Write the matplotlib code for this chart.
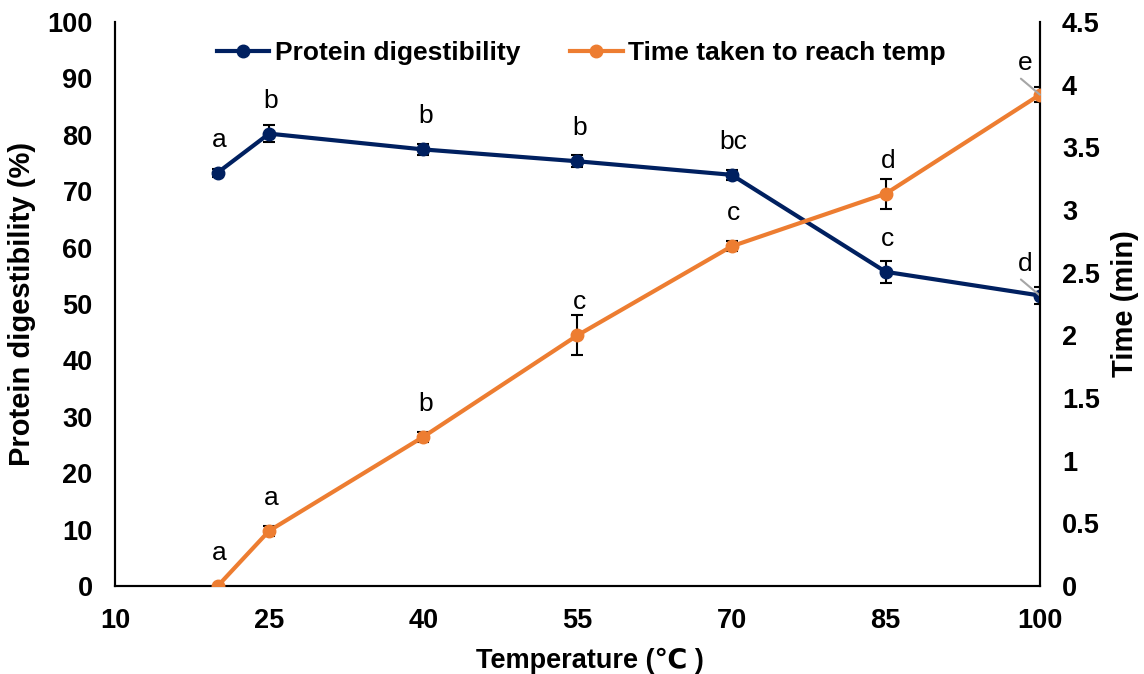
import matplotlib

matplotlib.use("Agg")
import matplotlib.pyplot as plt

# Protein digestibility and heating time versus cooking temperature.
plt.rcParams["font.family"] = ["Liberation Sans", "DejaVu Sans"]

temperature = [20, 25, 40, 55, 70, 85, 100]

digestibility = [73.3, 80.2, 77.4, 75.3, 72.9, 55.7, 51.5]
digestibility_err = [0.7, 1.5, 1.0, 1.1, 0.9, 2.0, 1.5]
digestibility_letters = ["a", "b", "b", "b", "bc", "c", "d"]

heat_time = [0.0, 0.44, 1.19, 2.0, 2.71, 3.13, 3.92]
heat_time_err = [0.0, 0.04, 0.04, 0.16, 0.04, 0.12, 0.06]
heat_time_letters = ["a", "a", "b", "c", "c", "d", "e"]

x_ticks = [10, 25, 40, 55, 70, 85, 100]
left_ticks = list(range(0, 101, 10))
right_ticks = [0, 0.5, 1, 1.5, 2, 2.5, 3, 3.5, 4, 4.5]

NAVY = "#002060"
ORANGE = "#ED7D31"
LEADER = "#a6a6a6"


def draw_series(axis, x, y, err, color, label):
    axis.errorbar(
        x, y, yerr=err, fmt="none", ecolor="black",
        elinewidth=1.5, capsize=4.5, capthick=1.5, zorder=2,
    )
    line, = axis.plot(
        x, y, color=color, linewidth=3, marker="o", markersize=9,
        label=label, zorder=3,
    )
    return line


def add_letters(axis, x, y, letters):
    for xi, yi, text in zip(x, y, letters):
        if xi == 100:
            # last point sits on the right spine, so the letter is pulled
            # left and joined to the marker with a short grey leader
            axis.annotate(
                "", xy=(xi, yi), xytext=(-19, 16), textcoords="offset pixels",
                arrowprops=dict(arrowstyle="-", color=LEADER, lw=1.5,
                                shrinkA=0, shrinkB=0),
                zorder=4,
            )
            offset = (-15, 32)
        else:
            offset = (2, 33)
        axis.annotate(
            text, xy=(xi, yi), xytext=offset, textcoords="offset pixels",
            ha="center", va="center", fontsize=19, zorder=5,
        )


fig = plt.figure(figsize=(11.44, 6.74), dpi=100)
ax = fig.add_axes([0.1005, 0.1306, 0.8085, 0.8368])
ax2 = ax.twinx()

line1 = draw_series(ax, temperature, digestibility, digestibility_err, NAVY,
                    "Protein digestibility")
line2 = draw_series(ax2, temperature, heat_time, heat_time_err, ORANGE,
                    "Time taken to reach temp")
add_letters(ax, temperature, digestibility, digestibility_letters)
add_letters(ax2, temperature, heat_time, heat_time_letters)

ax.set_xlim(10, 100)
ax.set_ylim(0, 100)
ax2.set_ylim(0, 4.5)
ax.set_xticks(x_ticks)
ax.set_yticks(left_ticks)
ax2.set_yticks(right_ticks)
ax2.set_yticklabels([f"{t:g}" for t in right_ticks])

for axis in (ax, ax2):
    axis.spines["top"].set_visible(False)
    for side in ("left", "right", "bottom"):
        axis.spines[side].set_linewidth(1.5)
    axis.tick_params(length=0, labelsize=19.5, pad=16)
    for lbl in axis.get_xticklabels() + axis.get_yticklabels():
        lbl.set_fontweight("bold")

ax.set_xlabel("Temperature (℃ )", fontsize=19.5, fontweight="bold", labelpad=10)
ax.xaxis.label.set_x(0.513)
ax.set_ylabel("Protein digestibility (%)", fontsize=21, fontweight="bold",
              labelpad=8)
ax2.set_ylabel("Time (min)", fontsize=21, fontweight="bold", rotation=90,
               labelpad=8)

fig.legend(
    handles=[line1, line2], loc="center", bbox_to_anchor=(0.508, 0.921),
    ncol=2, frameon=False, prop={"size": 19, "weight": "bold"},
    handlelength=2.0, handletextpad=0.2, columnspacing=1.9,
)

fig.savefig("out.png", dpi=100)
